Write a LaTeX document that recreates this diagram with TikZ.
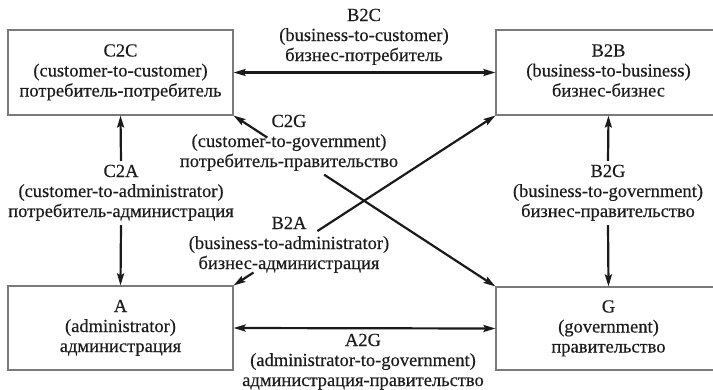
\documentclass[tikz,border=0pt]{standalone}
\usepackage{fontspec}
\setmainfont{Liberation Serif}[FakeBold=0.35]
\usetikzlibrary{arrows.meta,calc}
\definecolor{txt}{HTML}{1C1C1C}
\definecolor{boxc}{HTML}{7A7A7A}
\definecolor{arr}{HTML}{1A1A1A}
\newcommand{\threeln}[3]{\strut #1\\\strut #2\\\strut #3}
\tikzset{
  every node/.style={font=\fontsize{18.5bp}{20bp}\selectfont, text=txt, align=center},
  boxnode/.style={draw=boxc, line width=1.1bp, minimum width=225bp, minimum height=85bp, inner sep=0pt},
  lbl/.style={inner sep=2bp},
  tip/.tip={Stealth[length=12bp,width=7bp,inset=2bp]},
  link/.style={draw=arr, line width=2.2bp},
  both/.style={link, tip-tip},
  tipstart/.style={link, tip-},
  tipend/.style={link, -tip}
}
\begin{document}
\begin{tikzpicture}[x=1bp,y=-1bp]
\useasboundingbox (0,0) rectangle (713,389);
\clip (0,0) rectangle (713,389);
% boxes
\node[boxnode] (C2C) at (120.5,72.5) {\threeln{C2C}{(customer-to-customer)}{потребитель-потребитель}};
\node[boxnode] (B2B) at (608.5,72.5) {\threeln{B2B}{(business-to-business)}{бизнес-бизнес}};
\node[boxnode, minimum height=84bp] (A) at (120.5,328) {\threeln{A}{(administrator)}{администрация}};
\node[boxnode, minimum height=83bp] (G) at (608.5,328.5) {\threeln{G}{(government)}{правительство}};
% labels
\node[lbl] (b2c) at (364,37) {\threeln{B2C}{(business-to-customer)}{бизнес-потребитель}};
\node[lbl] (c2g) at (289,143) {\threeln{C2G}{(customer-to-government)}{потребитель-правительство}};
\node[lbl] (c2a) at (121,193) {\threeln{C2A}{(customer-to-administrator)}{потребитель-администрация}};
\node[lbl] (b2g) at (608,193) {\threeln{B2G}{(business-to-government)}{бизнес-правительство}};
\node[lbl] (b2a) at (289,245) {\threeln{B2A}{(business-to-administrator)}{бизнес-администрация}};
\node[lbl] (a2g) at (363,362) {\threeln{A2G}{(administrator-to-government)}{администрация-правительство}};
% break points on diagonals
\coordinate (c2gU) at ($(C2C.south east)!0.129!(G.north west)$);
\coordinate (c2gL) at ($(C2C.south east)!0.346!(G.north west)$);
\coordinate (b2aU) at ($(B2B.south west)!0.68!(A.north east)$);
\coordinate (b2aL) at ($(B2B.south west)!0.924!(A.north east)$);
% connectors
\draw[both] (C2C.east) -- (B2B.west);
\draw[both] (A.east) -- (G.west);
\draw[tipstart] (C2C.south) -- (c2a.north);
\draw[tipend] (c2a.south) -- (A.north);
\draw[tipstart] (B2B.south) -- (b2g.north);
\draw[tipend] (b2g.south) -- (G.north);
\draw[tipstart] (C2C.south east) -- (c2gU);
\draw[tipend] (c2gL) -- (G.north west);
\draw[tipstart] (B2B.south west) -- (b2aU);
\draw[tipend] (b2aL) -- (A.north east);
\end{tikzpicture}
\end{document}
